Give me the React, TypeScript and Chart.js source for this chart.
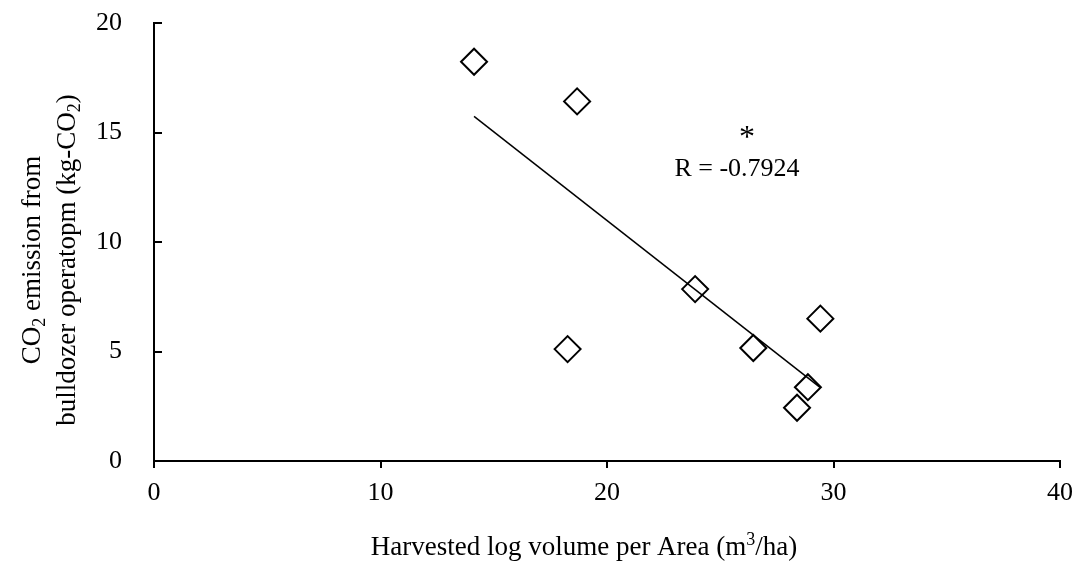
import React, { useEffect, useRef } from 'react';
import { Chart, registerables } from 'chart.js';

Chart.register(...registerables);

// ---- data ----
const volume = [14.13, 18.68, 18.26, 23.89, 26.46, 29.42, 28.87, 28.39];
const emission = [18.23, 16.42, 5.11, 7.85, 5.16, 6.5, 3.37, 2.43];
const trendX = [14.13, 29.42];
const trendY = [15.74, 3.35];
const xRange = [0, 40];
const yRange = [0, 20];
const xStep = 10;
const yStep = 5;
const rLabel = 'R = -0.7924';
const sigMark = '*';
const rLabelPos = [25.74, 13.0];
const sigPos = [26.18, 14.34];

const FONT = '"Liberation Serif", "Times New Roman", serif';

type Part = { t: string; sub?: boolean; sup?: boolean };

function drawRich(ctx: CanvasRenderingContext2D, parts: Part[], cx: number, by: number, size: number) {
  const small = Math.round(size * 0.65);
  let total = 0;
  const widths = parts.map((p) => {
    ctx.font = `${p.sub || p.sup ? small : size}px ${FONT}`;
    const w = ctx.measureText(p.t).width;
    total += w;
    return w;
  });
  let x = cx - total / 2;
  ctx.textAlign = 'left';
  ctx.textBaseline = 'alphabetic';
  parts.forEach((p, i) => {
    ctx.font = `${p.sub || p.sup ? small : size}px ${FONT}`;
    const dy = p.sub ? size * 0.18 : p.sup ? -size * 0.36 : 0;
    ctx.fillText(p.t, x, by + dy);
    x += widths[i];
  });
}

const textPlugin = {
  id: 'customTexts',
  afterDraw(chart: any) {
    const ctx: CanvasRenderingContext2D = chart.ctx;
    const xs = chart.scales.x;
    const ys = chart.scales.y;
    ctx.save();
    ctx.fillStyle = '#000';
    ctx.textAlign = 'center';
    ctx.textBaseline = 'alphabetic';
    ctx.font = `26px ${FONT}`;
    ctx.fillText(rLabel, xs.getPixelForValue(rLabelPos[0]), ys.getPixelForValue(rLabelPos[1]));
    ctx.font = `32px ${FONT}`;
    ctx.fillText(sigMark, xs.getPixelForValue(sigPos[0]), ys.getPixelForValue(sigPos[1]));
    drawRich(ctx, [{ t: 'Harvested log volume per Area (m' }, { t: '3', sup: true }, { t: '/ha)' }], 584, 555, 27);
    ctx.translate(40, 260);
    ctx.rotate(-Math.PI / 2);
    drawRich(ctx, [{ t: 'CO' }, { t: '2', sub: true }, { t: ' emission from' }], 0, 0, 27);
    drawRich(ctx, [{ t: 'bulldozer operatopm (kg-CO' }, { t: '2', sub: true }, { t: ')' }], 0, 35, 27);
    ctx.restore();
  },
};

export default function App() {
  const ref = useRef<HTMLCanvasElement | null>(null);
  useEffect(() => {
    if (!ref.current) return;
    const chart = new Chart(ref.current, {
      type: 'scatter',
      data: {
        datasets: [
          {
            label: 'Emission',
            data: volume.map((v, i) => ({ x: v, y: emission[i] })),
            pointStyle: 'rectRot',
            pointRadius: 13,
            pointHoverRadius: 13,
            borderColor: '#000',
            borderWidth: 2,
            backgroundColor: 'rgba(0,0,0,0)',
            order: 1,
          },
          {
            label: 'Trend',
            type: 'line',
            data: trendX.map((v, i) => ({ x: v, y: trendY[i] })),
            showLine: true,
            pointRadius: 0,
            borderColor: '#000',
            borderWidth: 1.5,
            fill: false,
            order: 2,
          } as any,
        ],
      },
      options: {
        responsive: false,
        animation: false,
        devicePixelRatio: 1,
        layout: { padding: { left: 0, top: 23, right: 19, bottom: 0 } },
        plugins: { legend: { display: false }, tooltip: { enabled: false } },
        scales: {
          x: {
            type: 'linear',
            min: xRange[0],
            max: xRange[1],
            ticks: { stepSize: xStep, color: '#000', font: { family: FONT, size: 26 }, padding: 10 },
            grid: { drawOnChartArea: false, drawTicks: true, tickLength: 7, color: '#000', lineWidth: 2 },
            border: { color: '#000', width: 2 },
            afterFit: (s: any) => {
              s.height = 102;
              s.paddingLeft = 0;
              s.paddingRight = 0;
            },
          },
          y: {
            type: 'linear',
            min: yRange[0],
            max: yRange[1],
            ticks: { stepSize: yStep, color: '#000', font: { family: FONT, size: 26 }, padding: 40 },
            grid: { drawOnChartArea: false, drawTicks: true, tickLength: -8, color: '#000', lineWidth: 2 },
            border: { color: '#000', width: 2 },
            afterFit: (s: any) => {
              s.width = 154;
              s.paddingTop = 0;
              s.paddingBottom = 0;
            },
          },
        },
      },
      plugins: [textPlugin],
    });
    return () => chart.destroy();
  }, []);
  return (
    <div style={{ position: 'fixed', left: 0, top: 0, width: 1079, height: 563, background: '#fff' }}>
      <canvas ref={ref} width={1079} height={563} style={{ display: 'block', width: 1079, height: 563 }} />
    </div>
  );
}
